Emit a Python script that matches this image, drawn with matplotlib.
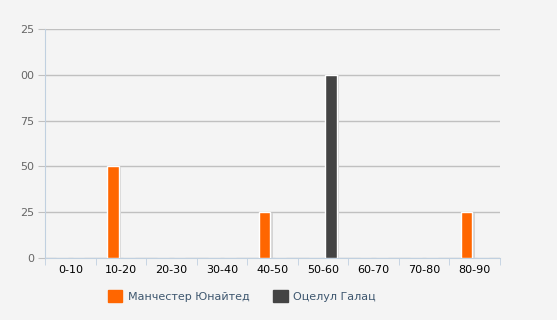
import numpy as np
import matplotlib.pyplot as plt

categories = ['0-10', '10-20', '20-30', '30-40', '40-50', '50-60', '60-70', '70-80', '80-90']
team_a = [0, 50, 0, 0, 25, 0, 0, 0, 25]
team_b = [0, 0, 0, 0, 0, 100, 0, 0, 0]
series_names = ['Манчестер Юнайтед', 'Оцелул Галац']
y_ticks = [0, 25, 50, 75, 100, 125]
y_labels = ['0', '25', '50', '75', '00', '25']

bg = '#f4f4f4'
fig = plt.figure(figsize=(5.57, 3.2), dpi=100, facecolor=bg)
ax = fig.add_axes([45/557, 1-258/320, 455/557, 229/320], facecolor=bg)

x = np.arange(len(categories))
w = 0.23
off = 0.16
colors = ['#ff6600', '#444444']

for vals, shift, col in [(team_a, -off, colors[0]), (team_b, off, colors[1])]:
    vals = np.array(vals)
    # shadow
    ax.bar(x + shift + 0.05, np.where(vals > 0, vals - 0.3, 0), width=w, color='#d4d4d4',
           zorder=2, linewidth=0)
    ax.bar(x + shift, vals, width=w, color=col, edgecolor='white', linewidth=1.0, zorder=3)

ax.set_xlim(-0.5, len(categories) - 0.5)
ax.set_ylim(0, 125)
ax.set_yticks(y_ticks)
ax.set_yticklabels(y_labels)
ax.set_xticks(x)
ax.set_xticklabels(categories)
ax.set_xticks(np.arange(-0.5, len(categories)), minor=True)

ax.grid(axis='y', color='#c0c0c0', linewidth=1, zorder=0)
ax.tick_params(axis='y', length=5, color='#c0c0c0', labelsize=8, labelcolor='#666666', pad=3)
ax.tick_params(axis='x', which='major', length=0, labelsize=8, labelcolor='black', pad=5)
ax.tick_params(axis='x', which='minor', length=5, color='#c0d0e0')

for s in ['top', 'right']:
    ax.spines[s].set_visible(False)
ax.spines['left'].set_color('#c0d0e0')
ax.spines['bottom'].set_color('#c0d0e0')

# legend
handles = [plt.Rectangle((0, 0), 1, 1, color=c) for c in colors]
fig.legend(handles, series_names, loc='center left', bbox_to_anchor=(98/557, 1-296/320),
           ncol=2, frameon=False, fontsize=8, handlelength=1.3, handleheight=1.3,
           columnspacing=2.1, handletextpad=0.5, labelcolor='#3e576f')

fig.savefig('out.png', dpi=100, facecolor=bg)
